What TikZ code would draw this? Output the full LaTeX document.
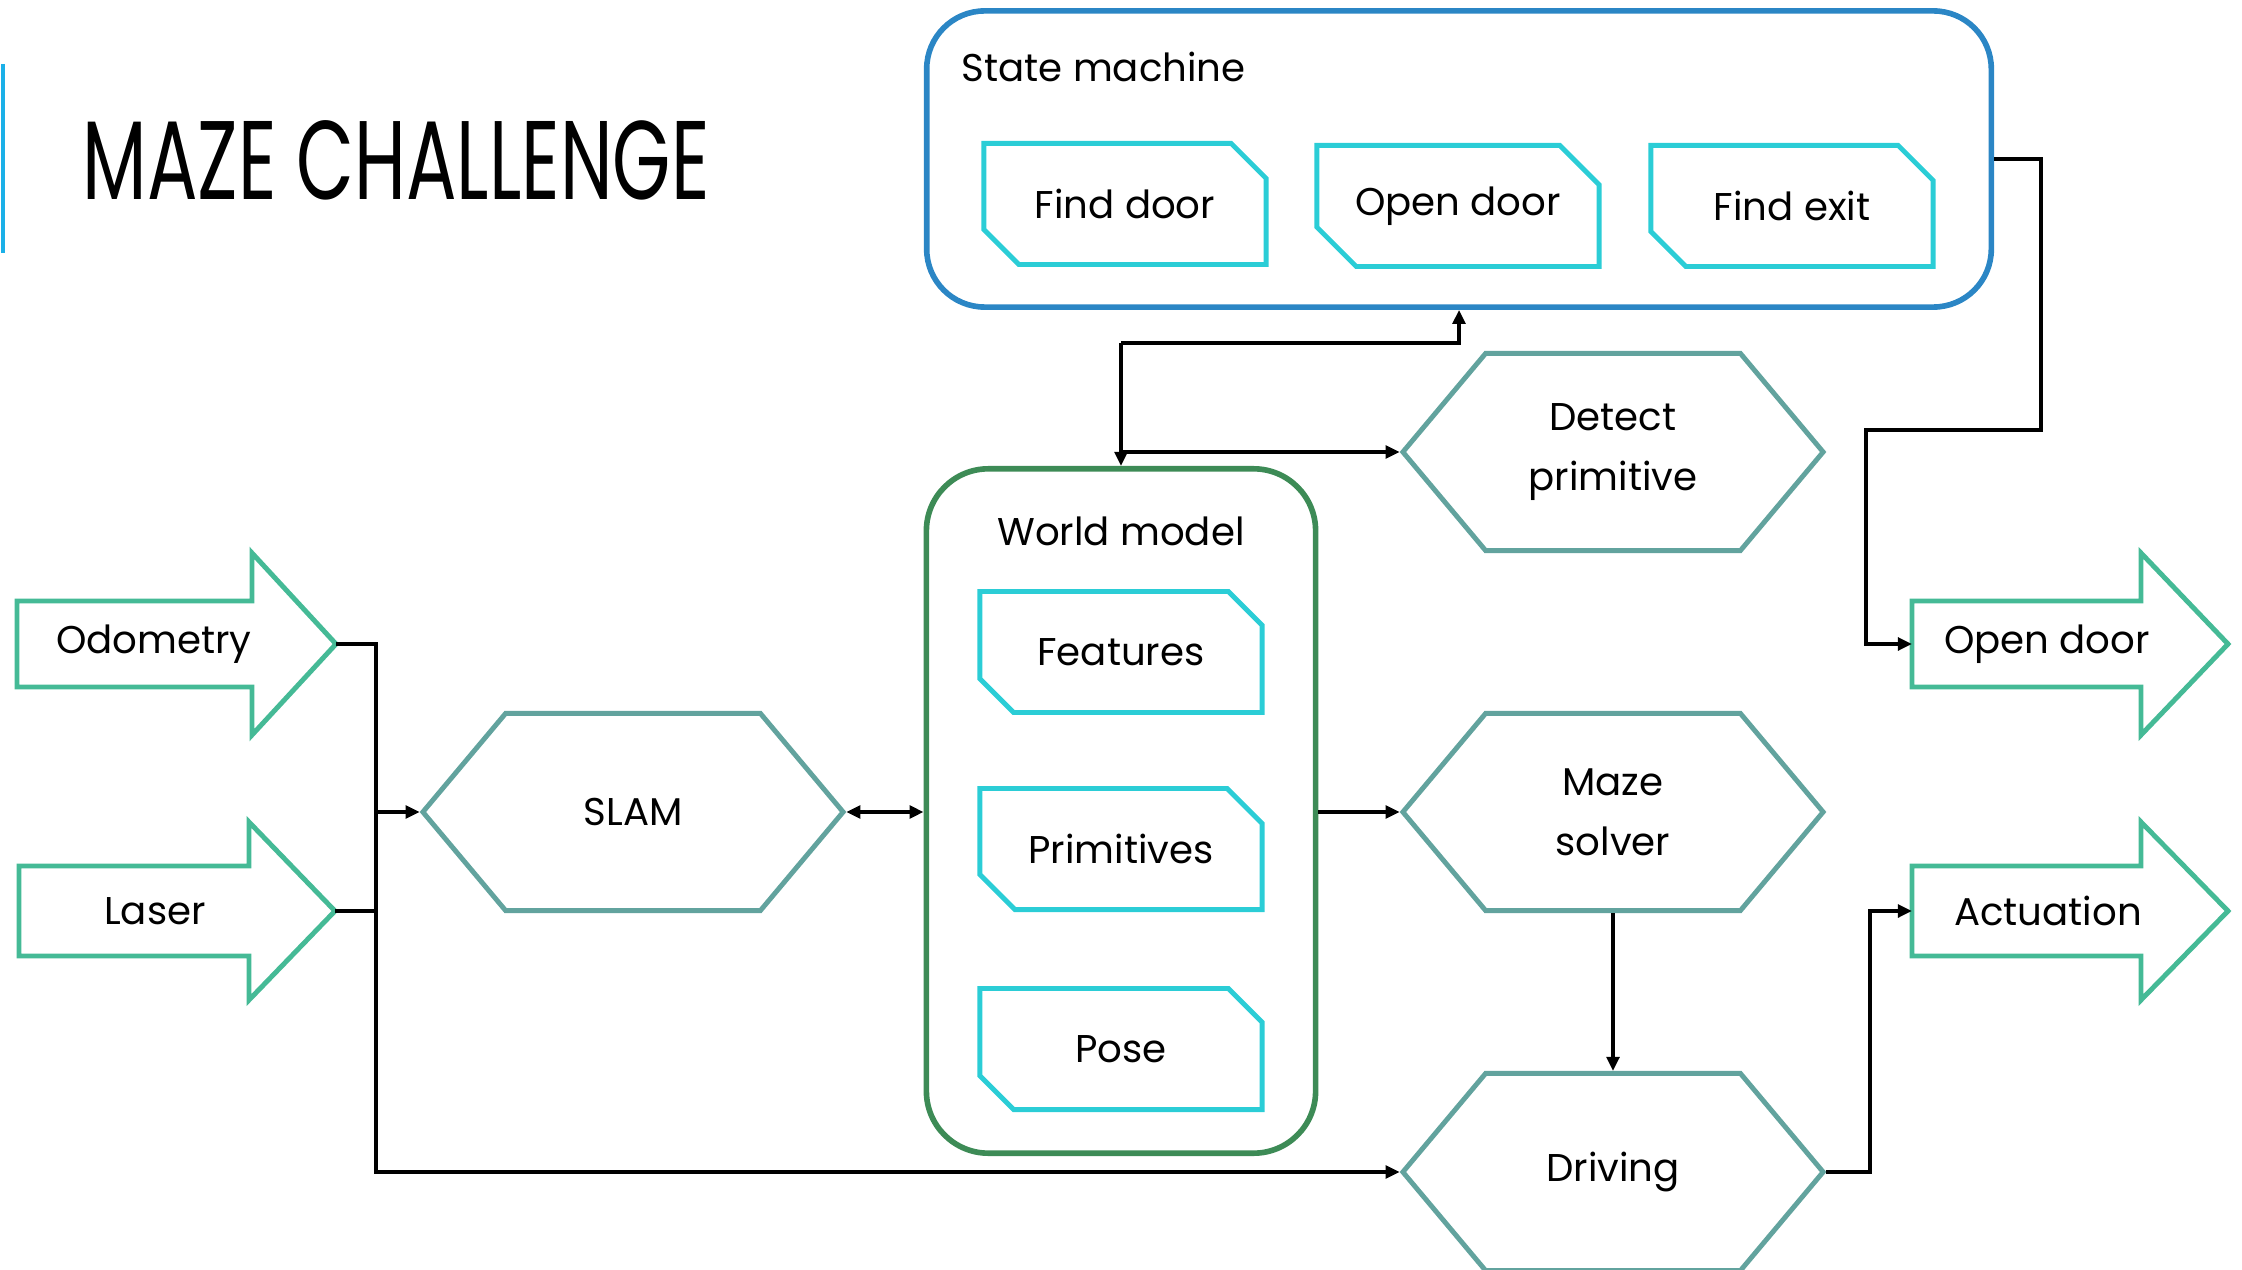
\documentclass[tikz,border=0pt]{standalone}
\usepackage{fontspec}
\setmainfont{Poppins}
\usepackage{tikz}
\usetikzlibrary{arrows.meta, shapes.misc, shapes.symbols}

\definecolor{smblue}{RGB}{43,134,197}
\definecolor{boxcyan}{RGB}{43,205,214}
\definecolor{wmgreen}{RGB}{61,139,86}
\definecolor{hexteal}{RGB}{98,163,158}
\definecolor{arrgreen}{RGB}{69,186,150}
\definecolor{barblue}{RGB}{27,176,232}

\tikzset{
  line/.style={line width=1.1pt},
  conn/.style={line, -{Triangle[length=4pt,width=3.6pt]}},
  group/.style={draw, line width=1.6pt, rounded corners=0.58cm, inner sep=0pt},
  snipbox/.style={draw=boxcyan, line width=1.4pt, chamfered rectangle,
    chamfered rectangle corners={north east, south west},
    chamfered rectangle xsep=0.2cm, chamfered rectangle ysep=0.2cm,
    minimum width=2.82cm, minimum height=1.21cm, inner sep=0pt},
  hexbox/.style={draw=hexteal, line width=1.4pt, signal, signal to=west and east,
    signal pointer angle=100, minimum width=4.2cm, minimum height=1.97cm,
    inner sep=0pt, align=center},
  bigarrow/.style={draw=arrgreen, line width=1.4pt, line join=miter},
  every node/.style={font=\fontsize{11}{17}\selectfont}
}

\begin{document}
\begin{tikzpicture}[x=0.01cm, y=-0.01cm]
  \useasboundingbox (0,0) rectangle (2242,1270);

  % title
  \draw[barblue, line width=0.9pt] (3,64) -- (3,253);
  \node[anchor=base west, inner sep=0pt] (title) at (82,200)
    {\scalebox{0.67}[1]{\fontsize{31.8}{36}\selectfont MAZE CHALLENGE}};

  % state machine
  \node[group, draw=smblue, minimum width=10.64cm, minimum height=2.96cm] (statemachine) at (1459,159) {};
  \node[anchor=west, inner sep=0pt] (smlabel) at (961,67) {State machine};
  \node[snipbox] (finddoor) at (1125,204) {Find door};
  \node[snipbox] (opendoorstate) at (1458,206) {Open door};
  \node[snipbox] (findexit) at (1792,206) {Find exit};

  % world model
  \node[group, draw=wmgreen, minimum width=3.89cm, minimum height=6.84cm, rounded corners=0.62cm] (worldmodel) at (1121,811) {};
  \node[inner sep=0pt] (wmlabel) at (1121,531) {World model};
  \node[snipbox] (features) at (1121,652) {Features};
  \node[snipbox] (primitives) at (1121,849) {Primitives};
  \node[snipbox] (pose) at (1121,1049) {Pose};

  % processing blocks
  \node[hexbox] (slam) at (633,812) {SLAM};
  \node[hexbox] (detect) at (1613,452) {Detect\\primitive};
  \node[hexbox] (maze) at (1613,812) {Maze\\solver};
  \node[hexbox] (driving) at (1613,1172) {Driving};

  % inputs
  \draw[bigarrow] (17,601) -- (252,601) -- (252,553) -- (336,644) -- (252,735) -- (252,687) -- (17,687) -- cycle;
  \node (odometry) at (154,644) {Odometry};
  \coordinate (odometry tip) at (336,644);
  \draw[bigarrow] (19,866) -- (249,866) -- (249,822) -- (335,911) -- (249,1000) -- (249,956) -- (19,956) -- cycle;
  \node (laser) at (155,911) {Laser};
  \coordinate (laser tip) at (335,911);

  % outputs
  \draw[bigarrow] (1912,601) -- (2141,601) -- (2141,553) -- (2228,644) -- (2141,735) -- (2141,687) -- (1912,687) -- cycle;
  \node (opendoor) at (2047,644) {Open door};
  \coordinate (opendoor tail) at (1912,644);
  \draw[bigarrow] (1912,866) -- (2141,866) -- (2141,822) -- (2228,911) -- (2141,1000) -- (2141,956) -- (1912,956) -- cycle;
  \node (actuation) at (2048,911) {Actuation};
  \coordinate (actuation tail) at (1912,911);

  % connections
  \draw[conn] (odometry tip) -| ([xshift=-0.44cm]slam.west) -- (slam.west);
  \draw[conn] (laser tip) -| ([xshift=-0.44cm]slam.west) |- (driving.west);
  \draw[line, {Triangle[length=4pt,width=3.6pt]}-{Triangle[length=4pt,width=3.6pt]}] (slam.east) -- (slam.east -| worldmodel.west);
  \draw[conn] (worldmodel.east |- maze.west) -- (maze.west);
  \draw[conn] (maze.south) -- (driving.north);
  \draw[conn] (driving.east) -- ++(44,0) |- (actuation tail);

  \coordinate (split) at (1121,343);
  \draw[conn] (split) -- (worldmodel.north);
  \draw[conn] (split) -| (statemachine.south);
  \draw[conn] (worldmodel.north |- detect.west) -- (detect.west);

  \draw[conn] (statemachine.east) -- ++(47,0) -- ++(0,271) -- ++(-175,0) |- (opendoor tail);
\end{tikzpicture}
\end{document}
